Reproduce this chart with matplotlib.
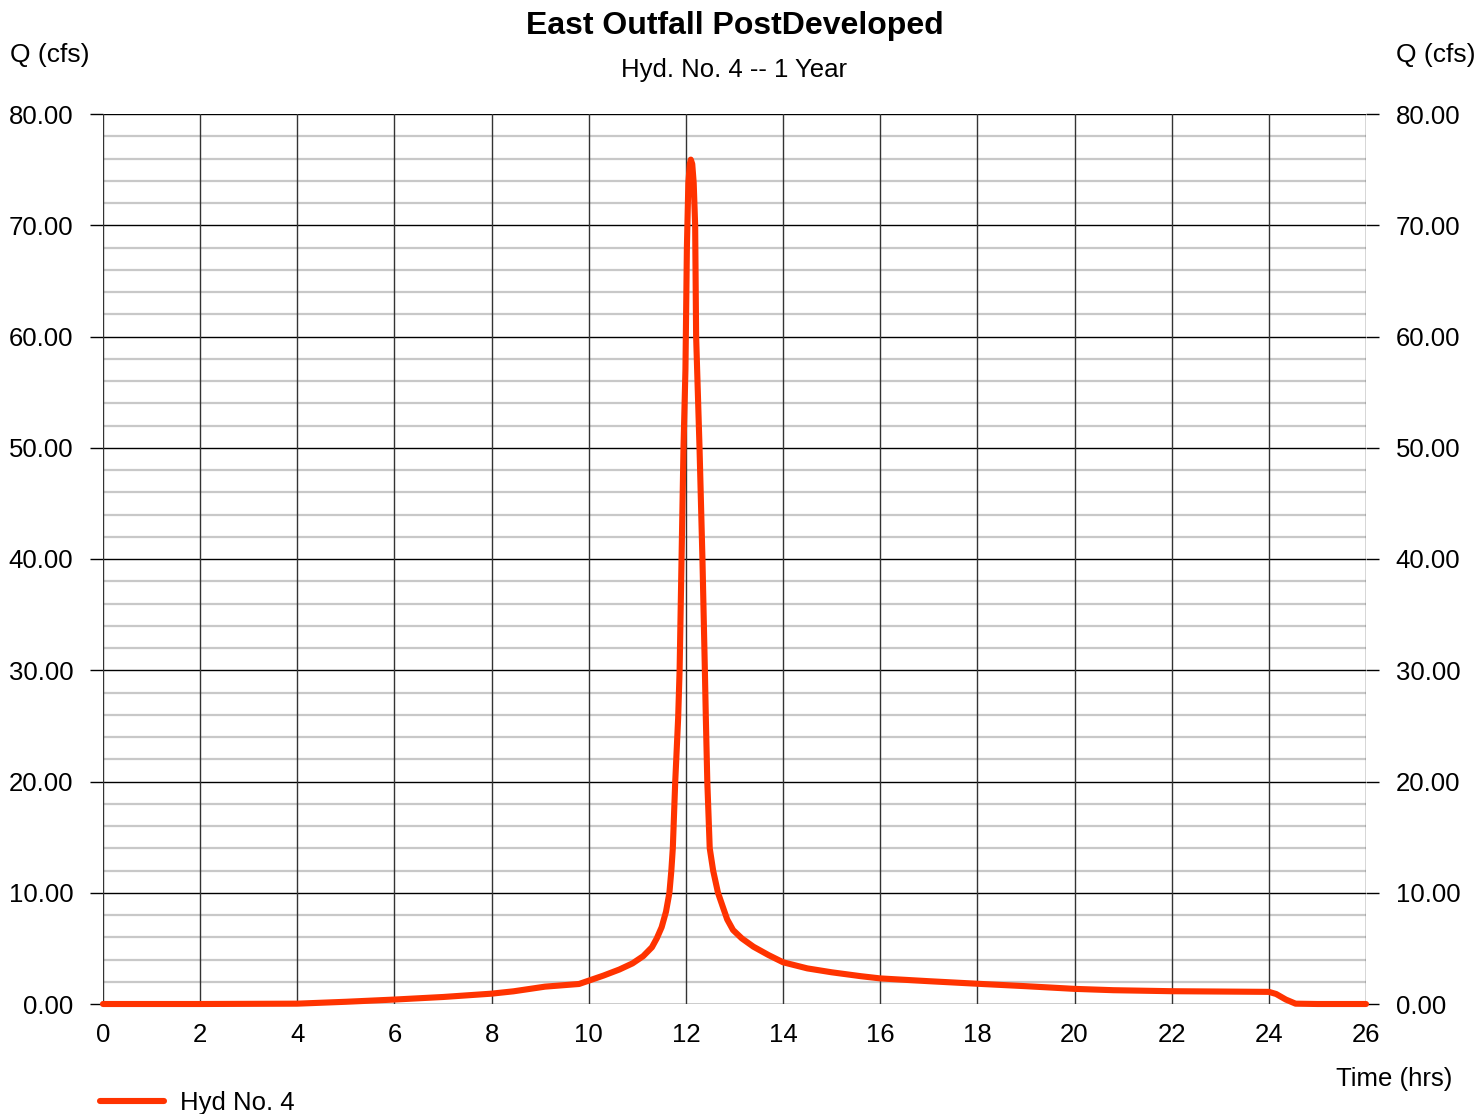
import numpy as np
import matplotlib
matplotlib.use("Agg")
import matplotlib.pyplot as plt

plt.rcParams['font.family'] = ['Liberation Sans', 'DejaVu Sans']

# hydrograph (hrs, cfs)
time_hrs = [0, 2, 4, 5, 6, 7, 8, 8.45, 9.1, 9.8, 10, 10.3, 10.63, 10.9, 11.12,
            11.3, 11.4, 11.5, 11.59, 11.66, 11.70, 11.73, 11.78, 11.84, 11.87,
            11.91, 11.95, 11.99, 12.02, 12.05, 12.08, 12.10, 12.13, 12.16,
            12.19, 12.21, 12.28, 12.34, 12.39, 12.41, 12.44, 12.49, 12.56,
            12.66, 12.77, 12.85, 12.97, 13.15, 13.39, 13.7, 14.0, 14.5, 15.0,
            15.6, 16, 17, 18, 19, 20, 20.8, 22, 23, 24, 24.15, 24.35, 24.55,
            25, 26]
flow_cfs = [0, 0, 0.03, 0.2, 0.4, 0.63, 0.93, 1.14, 1.56, 1.8, 2.1, 2.55, 3.1, 3.65, 4.3,
            5.1, 5.9, 6.9, 8.3, 10, 12, 14, 20, 25.7, 30,
            40, 50, 57, 68, 73.8, 75.5, 75.9, 75.5, 73.8,
            70, 60, 50, 40, 30, 25.7, 20, 14, 12,
            10, 8.6, 7.6, 6.65, 5.9, 5.15, 4.4, 3.75, 3.2, 2.85,
            2.5, 2.3, 2.05, 1.82, 1.6, 1.36, 1.24, 1.15, 1.12, 1.09, 0.9, 0.4, 0.03,
            0, 0]

x_ticks = np.arange(0, 27, 2)
y_major = np.arange(0, 81, 10)
y_minor = np.arange(0, 81, 2)
series_name = "Hyd No. 4"
title = "East Outfall PostDeveloped"
subtitle = "Hyd. No. 4 -- 1 Year"

W, H = 1478, 1114
fig = plt.figure(figsize=(W / 100, H / 100), dpi=100)
ax = fig.add_axes([103 / W, 1 - 1004 / H, (1366 - 103) / W, (1004 - 114) / H])

ax.set_xlim(0, 26)
ax.set_ylim(0, 80)

# grid
for v in y_minor:
    if v % 10:
        ax.axhline(v, color='#c8c8c8', lw=1.6, zorder=1)
for v in y_major:
    ax.axhline(v, color='black', lw=1.0, zorder=2)
for v in x_ticks:
    ax.axvline(v, color='#333333', lw=1.0, zorder=2)

ax.plot(time_hrs, flow_cfs, color='#ff3300', lw=4.4, solid_joinstyle='round',
        solid_capstyle='round', zorder=5, label=series_name, clip_on=False)

for s in ax.spines.values():
    s.set_visible(False)

ax.set_xticks(x_ticks)
ax.set_yticks(y_major)
ax.set_yticklabels([f"{v:.2f}" for v in y_major])
ax.tick_params(axis='x', length=0, pad=14, labelsize=18.5)
ax.tick_params(axis='y', length=9.5, width=1.0, pad=12, labelsize=18.5,
               left=True, right=True, labelleft=True, labelright=True)

fig.text(735 / W, 1 - 26 / H, title, ha='center', va='center',
         fontsize=23, fontweight='bold')
fig.text(734 / W, 1 - 70 / H, subtitle, ha='center', va='center', fontsize=18.5)
fig.text(10 / W, 1 - 55 / H, "Q (cfs)", ha='left', va='center', fontsize=19)
fig.text(1476 / W, 1 - 55 / H, "Q (cfs)", ha='right', va='center', fontsize=19)
fig.text(1452 / W, 1 - 1079 / H, "Time (hrs)", ha='right', va='center', fontsize=18.5)

fig.legend(loc='center left', bbox_to_anchor=(100 / W, 1 - 1103 / H),
           frameon=False, fontsize=18.5, handlelength=2.5, handletextpad=0.6,
           borderpad=0, borderaxespad=0)

fig.savefig("out.png", dpi=100)
